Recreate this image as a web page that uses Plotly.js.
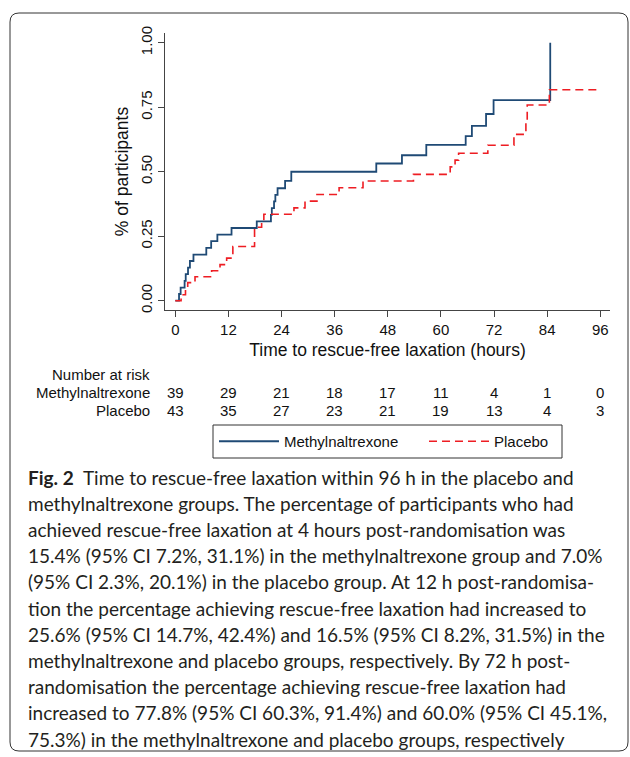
<!DOCTYPE html>
<html><head><meta charset="utf-8">
<script src="https://cdn.plot.ly/plotly-3.0.1.min.js"></script>
<style>html,body{margin:0;padding:0;background:#fff}#chart{width:630px;height:757px}</style>
</head><body><div id="chart"></div>
<script>
// Kaplan-Meier style cumulative incidence
const mntxTime  = [0, 0.84, 1.2, 2.1, 2.35, 2.87, 3.3, 4.1, 7.0, 8.1, 9.5, 12.7, 18.4, 21.6, 21.8, 22.3, 22.6, 23.1, 24.8, 26.2, 45.4, 51.2, 56.7, 65.6, 67.0, 70.2, 71.9, 84.7];
const mntxValue = [0, 0.026, 0.051, 0.077, 0.103, 0.128, 0.154, 0.179, 0.205, 0.231, 0.256, 0.282, 0.308, 0.333, 0.359, 0.385, 0.410, 0.436, 0.465, 0.500, 0.532, 0.564, 0.604, 0.638, 0.678, 0.724, 0.778, 1.0];
const placeboTime  = [0, 1.3, 2.3, 2.8, 4.45, 8.2, 10.1, 11.6, 13.0, 17.9, 19.5, 20.0, 26.8, 29.3, 32.0, 37.0, 42.4, 53.8, 62.1, 63.2, 64.0, 70.6, 76.5, 79.2, 79.5, 84.5, 96];
const placeboValue = [0, 0.023, 0.047, 0.070, 0.093, 0.116, 0.140, 0.165, 0.210, 0.285, 0.311, 0.335, 0.360, 0.386, 0.412, 0.438, 0.464, 0.490, 0.519, 0.545, 0.572, 0.603, 0.645, 0.700, 0.759, 0.818, 0.818];

const riskTimes   = [0, 12, 24, 36, 48, 60, 72, 84, 96];
const riskMntx    = [39, 29, 21, 18, 17, 11, 4, 1, 0];
const riskPlacebo = [43, 35, 27, 23, 21, 19, 13, 4, 3];
const yTickVals = [0, 0.25, 0.5, 0.75, 1];
const yTickText = ['0.00', '0.25', '0.50', '0.75', '1.00'];
const seriesNames = ['Methylnaltrexone', 'Placebo'];

const captionLines = [
  '<b>Fig. 2</b>  Time to rescue-free laxation within 96 h in the placebo and',
  'methylnaltrexone groups. The percentage of participants who had',
  'achieved rescue-free laxation at 4 hours post-randomisation was',
  '15.4% (95% CI 7.2%, 31.1%) in the methylnaltrexone group and 7.0%',
  '(95% CI 2.3%, 20.1%) in the placebo group. At 12 h post-randomisa-',
  'tion the percentage achieving rescue-free laxation had increased to',
  '25.6% (95% CI 14.7%, 42.4%) and 16.5% (95% CI 8.2%, 31.5%) in the',
  'methylnaltrexone and placebo groups, respectively. By 72 h post-',
  'randomisation the percentage achieving rescue-free laxation had',
  'increased to 77.8% (95% CI 60.3%, 91.4%) and 60.0% (95% CI 45.1%,',
  '75.3%) in the methylnaltrexone and placebo groups, respectively'
];

// layout geometry (pixels)
const W = 630, H = 757, L = 165, R = 610, T = 33, B = 310;
const px = x => (x - L) / (R - L);
const py = y => (B - y) / (B - T);
const sansFont = 'Liberation Sans, Arial, sans-serif';

function roundRect(x0, y0, x1, y1, r) {
  const P = (x, y) => px(x).toFixed(5) + ',' + py(y).toFixed(5);
  return 'M' + P(x0 + r, y0) + ' L' + P(x1 - r, y0) + ' Q' + P(x1, y0) + ' ' + P(x1, y0 + r) +
    ' L' + P(x1, y1 - r) + ' Q' + P(x1, y1) + ' ' + P(x1 - r, y1) +
    ' L' + P(x0 + r, y1) + ' Q' + P(x0, y1) + ' ' + P(x0, y1 - r) +
    ' L' + P(x0, y0 + r) + ' Q' + P(x0, y0) + ' ' + P(x0 + r, y0) + ' Z';
}

const traces = [
  {x: mntxTime, y: mntxValue, name: seriesNames[0], type: 'scatter', mode: 'lines', legend: 'legend',
   line: {shape: 'hv', color: '#1f4a75', width: 1.8}},
  {x: placeboTime, y: placeboValue, name: seriesNames[1], type: 'scatter', mode: 'lines', legend: 'legend2',
   line: {shape: 'hv', color: '#ee1d23', width: 1.6, dash: '8px,5px'}}
];

const annotations = [];
annotations.push({xref: 'paper', yref: 'paper', x: px(152), y: py(374), xanchor: 'right', yanchor: 'middle',
  text: 'Number at risk', showarrow: false, font: {family: sansFont, size: 15, color: '#111'}});
annotations.push({xref: 'paper', yref: 'paper', x: px(152), y: py(392), xanchor: 'right', yanchor: 'middle',
  text: seriesNames[0], showarrow: false, font: {family: sansFont, size: 15, color: '#111'}});
annotations.push({xref: 'paper', yref: 'paper', x: px(152), y: py(410), xanchor: 'right', yanchor: 'middle',
  text: seriesNames[1], showarrow: false, font: {family: sansFont, size: 15, color: '#111'}});
riskTimes.forEach((t, i) => {
  annotations.push({xref: 'x', yref: 'paper', x: t, y: py(392), xanchor: 'center', yanchor: 'middle',
    text: String(riskMntx[i]), showarrow: false, font: {family: sansFont, size: 15, color: '#111'}});
  annotations.push({xref: 'x', yref: 'paper', x: t, y: py(410), xanchor: 'center', yanchor: 'middle',
    text: String(riskPlacebo[i]), showarrow: false, font: {family: sansFont, size: 15, color: '#111'}});
});
captionLines.forEach((line, i) => {
  annotations.push({xref: 'paper', yref: 'paper', x: px(26), y: py(477 + i * 26.2), xanchor: 'left', yanchor: 'middle',
    text: line, showarrow: false, align: 'left', font: {family: 'Lato, Open Sans, sans-serif', size: 19, color: '#231f20'}});
});

const legendCommon = {orientation: 'h', yanchor: 'top', xanchor: 'left', y: py(425),
  borderwidth: 0, bgcolor: 'rgba(0,0,0,0)', itemwidth: 60,
  font: {family: sansFont, size: 15, color: '#111'}};

const layout = {
  width: W, height: H,
  margin: {l: L, r: W - R, t: T, b: H - B, pad: 0},
  paper_bgcolor: '#fff', plot_bgcolor: '#fff',
  font: {family: sansFont, color: '#111'},
  showlegend: true,
  legend: Object.assign({}, legendCommon, {x: px(214)}),
  legend2: Object.assign({}, legendCommon, {x: px(424)}),
  xaxis: {range: [-2.33, 98.2], tickvals: riskTimes, ticktext: riskTimes.map(String),
    showgrid: false, zeroline: false, showline: true, linecolor: '#444', linewidth: 1,
    ticks: 'outside', ticklen: 6, tickcolor: '#444', tickfont: {family: sansFont, size: 15, color: '#111'},
    title: {text: 'Time to rescue-free laxation (hours)', font: {family: sansFont, size: 17.5, color: '#111'}, standoff: 6},
    fixedrange: true},
  yaxis: {range: [-0.036, 1.038], tickvals: yTickVals, ticktext: yTickText, tickangle: -90,
    showgrid: false, zeroline: false, showline: true, linecolor: '#444', linewidth: 1,
    ticks: 'outside', ticklen: 6, tickcolor: '#444', tickfont: {family: sansFont, size: 15, color: '#111'},
    title: {text: '% of participants', font: {family: sansFont, size: 17.5, color: '#111'}, standoff: 4},
    fixedrange: true},
  annotations: annotations,
  shapes: [
    {type: 'path', xref: 'paper', yref: 'paper', path: roundRect(10, 13, 628, 751, 9),
     line: {color: '#333', width: 1}, fillcolor: 'rgba(0,0,0,0)', layer: 'below'},
    {type: 'rect', xref: 'paper', yref: 'paper', x0: px(213), x1: px(562), y0: py(425), y1: py(458),
     line: {color: '#333', width: 1}, fillcolor: 'rgba(0,0,0,0)', layer: 'below'}
  ]
};

Plotly.newPlot('chart', traces, layout, {staticPlot: true, displayModeBar: false});
</script>
</body></html>
